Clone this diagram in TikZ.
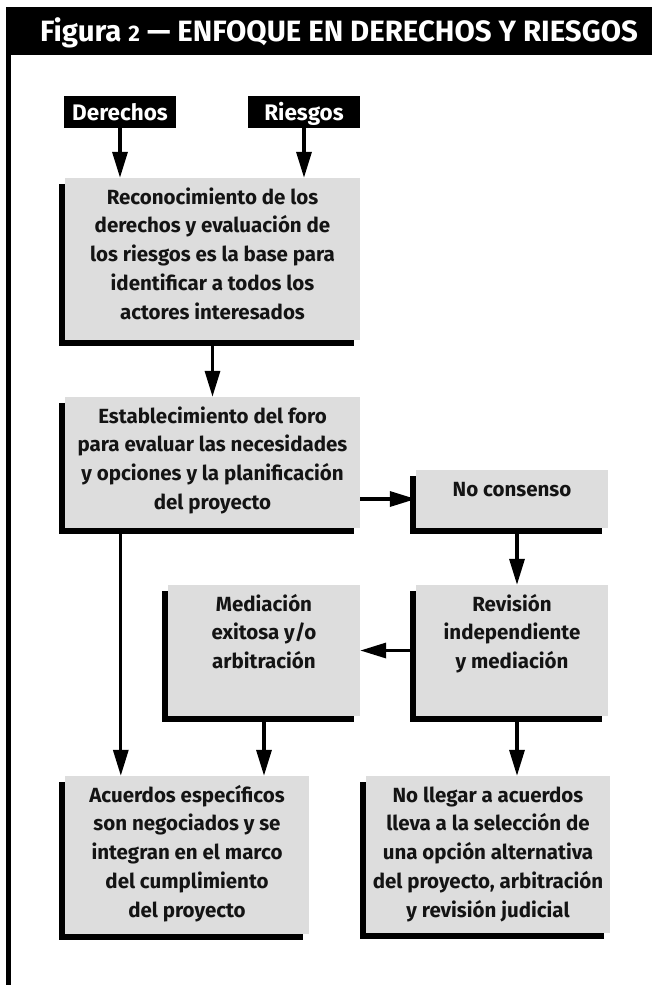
\documentclass[tikz,border=0pt]{standalone}
\usepackage{fontspec}
\setmainfont{Fira Sans}
\usetikzlibrary{arrows.meta,shadows,calc}
\definecolor{boxgray}{RGB}{221,221,221}
\definecolor{ink}{RGB}{20,20,20}
\newcommand{\btext}[3]{\parbox[c][#2][t]{#1}{\rule{0pt}{26pt}\makebox[#1]{\begin{tabular}[t]{@{}c@{}}#3\end{tabular}}}}
\begin{document}
\begin{tikzpicture}[x=1pt,y=-1pt,
  box/.style={inner sep=0pt, fill=boxgray, text=ink,
    general shadow={fill=black, shadow xshift=-6pt, shadow yshift=-6pt},
    font=\bfseries\fontsize{20.5pt}{28.8pt}\selectfont},
  tag/.style={fill=black, text=white, inner sep=0pt, minimum width=112pt,
    minimum height=32pt, text height=17pt, text depth=0pt,
    font=\bfseries\fontsize{22.5pt}{26pt}\selectfont},
  titlefont/.style={text=white, inner sep=0pt, font=\bfseries\fontsize{29.4pt}{32pt}\selectfont},
  arr/.style={draw=black, line width=3.3pt, -{Triangle[length=26pt,width=15pt]}}
]
\useasboundingbox (0,0) rectangle (652,986);
\fill[white] (0,0) rectangle (652,986);
% title bar and left rule
\fill[black] (6,7) rectangle (652,55);
\fill[black] (6,55) rectangle (11,985);
\node[titlefont, anchor=base] (title) at (339,41.5) {Figura {\fontsize{22.5pt}{24pt}\selectfont 2} — ENFOQUE EN DERECHOS Y RIESGOS};
% tags
\node[tag] (der) at (120,112) {Derechos};
\node[tag] (rie) at (304,112) {Riesgos};
% boxes
\node[box] (b1) at (212.5,259) {\btext{295pt}{162pt}{Reconocimiento de los\\derechos y evaluación de\\los riesgos es la base para\\identificar a todos los\\actores interesados}};
\node[box] (b2) at (212.5,462.5) {\btext{295pt}{131pt}{Establecimiento del foro\\para evaluar las necesidades\\y opciones y la planificación\\del proyecto}};
\node[box] (noc) at (512,499) {\btext{192pt}{58pt}{No consenso}};
\node[box] (rev) at (512,650.5) {\btext{192pt}{131pt}{Revisión\\independiente\\y mediación}};
\node[box] (med) at (264,650.5) {\btext{192pt}{131pt}{Mediación\\exitosa y/o\\arbitración}};
\node[box] (ac) at (187,855) {\btext{244pt}{158pt}{Acuerdos específicos\\son negociados y se\\integran en el marco\\del cumplimiento\\del proyecto}};
\node[box] (nl) at (488,854.5) {\btext{244pt}{157pt}{No llegar a acuerdos\\lleva a la selección de\\una opción alternativa\\del proyecto, arbitración\\y revisión judicial}};
% connectors
\draw[arr] (der.south) -- (der.south |- b1.north);
\draw[arr] (rie.south) -- (rie.south |- b1.north);
\draw[arr] (b1.south) -- (b2.north);
\draw[arr] (b2.east |- noc.west) -- (noc.west);
\draw[arr] ([xshift=5pt]noc.south) -- ([xshift=5pt]noc.south |- rev.north);
\draw[arr] (rev.west) -- (med.east);
\draw[arr] ([xshift=5pt]rev.south) -- ([xshift=5pt]rev.south |- nl.north);
\draw[arr] (med.south) -- (med.south |- ac.north);
\draw[arr] ([xshift=56pt]b2.south west) -- ([xshift=56pt]b2.south west |- ac.north);
\end{tikzpicture}
\end{document}
